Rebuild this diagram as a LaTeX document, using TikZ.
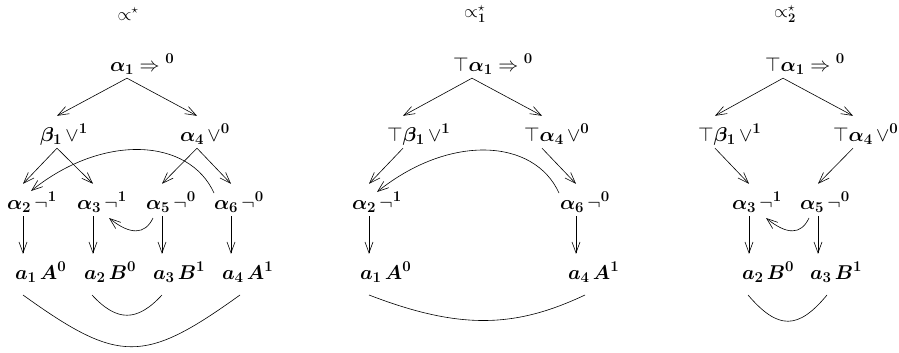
\RequirePackage{fix-cm}
\documentclass[tikz,border=0pt]{standalone}
\usepackage{amsmath,bm}
\usetikzlibrary{arrows.meta}
\DeclareMathSizes{20}{20}{15}{11}
\DeclareMathSizes{18}{18}{13}{10}

\newcommand{\ba}{\bm{\alpha}}
\newcommand{\bb}{\bm{\beta}}
\newcommand{\dg}[1]{\mathbf{#1}}
% text that starts #1pt left of the node's anchor point
\newcommand{\lft}[2]{\makebox[0pt][l]{\hspace*{-#1pt}#2}}

\begin{document}
\begin{tikzpicture}[x=1pt,y=-1pt,
  nd/.style={inner xsep=0pt, inner ysep=3pt, text height=22pt, text depth=4pt,
             anchor=base, font=\fontsize{20}{24}\selectfont},
  ttl/.style={font=\fontsize{18}{22}\selectfont},
  arr/.style={-{Straight Barb[length=11pt,width=8pt]}, line width=0.6pt},
  bond/.style={line width=0.6pt}]
\useasboundingbox (0,0) rectangle (899,353);

% ---------- first tree ----------
\node[ttl] (t1) at (128,14) {$\propto^{\star}$};
\node[nd] (a1) at (127,71) {\lft{17}{$\ba_{\dg1}\Rightarrow{}^{\dg0}$}};
\node[nd] (b1) at (57,141) {\lft{17}{$\bb_{\dg1}\,\vee^{\dg1}$}};
\node[nd] (a4) at (197,141) {\lft{17}{$\ba_{\dg4}\,\vee^{\dg0}$}};
\node[nd] (a2) at (23,209) {\lft{16}{$\ba_{\dg2}\,\neg^{\dg1}$}};
\node[nd] (a3) at (93,209) {\lft{16}{$\ba_{\dg3}\,\neg^{\dg1}$}};
\node[nd] (a5) at (162,209) {\lft{16}{$\ba_{\dg5}\,\neg^{\dg0}$}};
\node[nd] (a6) at (231,209) {\lft{17}{$\ba_{\dg6}\,\neg^{\dg0}$}};
\node[nd] (c1) at (23,279) {\lft{8}{$\bm{a}_{\dg1}\,\bm{A}^{\dg0}$}};
\node[nd] (c2) at (93,279) {\lft{9}{$\bm{a}_{\dg2}\,\bm{B}^{\dg0}$}};
\node[nd] (c3) at (162,279) {\lft{9}{$\bm{a}_{\dg3}\,\bm{B}^{\dg1}$}};
\node[nd] (c4) at (231,279) {\lft{9}{$\bm{a}_{\dg4}\,\bm{A}^{\dg1}$}};

\draw[arr] (a1.south) -- (b1.north);
\draw[arr] (a1.south) -- (a4.north);
\draw[arr] (b1.south) -- (a2.north);
\draw[arr] (b1.south) -- (a3.north);
\draw[arr] (a4.south) -- (a5.north);
\draw[arr] (a4.south) -- (a6.north);
\draw[arr] (a2.south) -- (c1.north);
\draw[arr] (a3.south) -- (c2.north);
\draw[arr] (a5.south) -- (c3.north);
\draw[arr] (a6.south) -- (c4.north);
\draw[arr] ([shift={(-17,-16)}]a6.base) .. controls +(-25,-55) and +(72,-58) .. ([shift={(8,-18)}]a2.base);
\draw[arr] ([shift={(-9,9)}]a5.base) .. controls +(-8,17) and +(21,17) .. ([shift={(16,9)}]a3.base);
\draw[bond] ([shift={(0,16)}]c1.base) .. controls +(96,69) and +(-96,69) .. ([shift={(9,16)}]c4.base);
\draw[bond] ([shift={(-1,16)}]c2.base) .. controls +(25,27) and +(-25,27) .. ([shift={(0,16)}]c3.base);

% ---------- second tree ----------
\node[ttl] (t2) at (475,14) {$\propto^{\star}_{\dg1}$};
\node[nd] (d1) at (472,71) {\lft{19}{$\top\ba_{\dg1}\Rightarrow{}^{\dg0}$}};
\node[nd] (e1) at (403,141) {\lft{16}{$\top\bb_{\dg1}\,\vee^{\dg1}$}};
\node[nd] (e4) at (542,141) {\lft{18}{$\top\ba_{\dg4}\,\vee^{\dg0}$}};
\node[nd] (f2) at (369,209) {\lft{17}{$\ba_{\dg2}\,\neg^{\dg1}$}};
\node[nd] (f6) at (576,209) {\lft{16}{$\ba_{\dg6}\,\neg^{\dg0}$}};
\node[nd] (g1) at (369,279) {\lft{9}{$\bm{a}_{\dg1}\,\bm{A}^{\dg0}$}};
\node[nd] (g4) at (576,279) {\lft{8}{$\bm{a}_{\dg4}\,\bm{A}^{\dg1}$}};

\draw[arr] (d1.south) -- (e1.north);
\draw[arr] (d1.south) -- (e4.north);
\draw[arr] (e1.south) -- (f2.north);
\draw[arr] (e4.south) -- (f6.north);
\draw[arr] (f2.south) -- (g1.north);
\draw[arr] (f6.south) -- (g4.north);
\draw[arr] ([shift={(-17,-16)}]f6.base) .. controls +(-25,-55) and +(72,-58) .. ([shift={(8,-17)}]f2.base);
\draw[bond] ([shift={(0,16)}]g1.base) .. controls +(91,35) and +(-70,33) .. ([shift={(9,16)}]g4.base);

% ---------- third tree ----------
\node[ttl] (t3) at (785,14) {$\propto^{\star}_{\dg2}$};
\node[nd] (h1) at (783,71) {\lft{18}{$\top\ba_{\dg1}\Rightarrow{}^{\dg0}$}};
\node[nd] (i1) at (715,141) {\lft{17}{$\top\bb_{\dg1}\,\vee^{\dg1}$}};
\node[nd] (i4) at (853,141) {\lft{20}{$\top\ba_{\dg4}\,\vee^{\dg0}$}};
\node[nd] (j3) at (749,209) {\lft{17}{$\ba_{\dg3}\,\neg^{\dg1}$}};
\node[nd] (j5) at (818,209) {\lft{18}{$\ba_{\dg5}\,\neg^{\dg0}$}};
\node[nd] (k2) at (749,279) {\lft{7}{$\bm{a}_{\dg2}\,\bm{B}^{\dg0}$}};
\node[nd] (k3) at (818,279) {\lft{8}{$\bm{a}_{\dg3}\,\bm{B}^{\dg1}$}};

\draw[arr] (h1.south) -- (i1.north);
\draw[arr] (h1.south) -- (i4.north);
\draw[arr] (i1.south) -- (j3.north);
\draw[arr] (i4.south) -- (j5.north);
\draw[arr] (j3.south) -- (k2.north);
\draw[arr] (j5.south) -- (k3.north);
\draw[arr] ([shift={(-9,9)}]j5.base) .. controls +(-8,17) and +(21,17) .. ([shift={(17,9)}]j3.base);
\draw[bond] ([shift={(-1,16)}]k2.base) .. controls +(30,35) and +(-29,35) .. ([shift={(9,16)}]k3.base);
\end{tikzpicture}
\end{document}
